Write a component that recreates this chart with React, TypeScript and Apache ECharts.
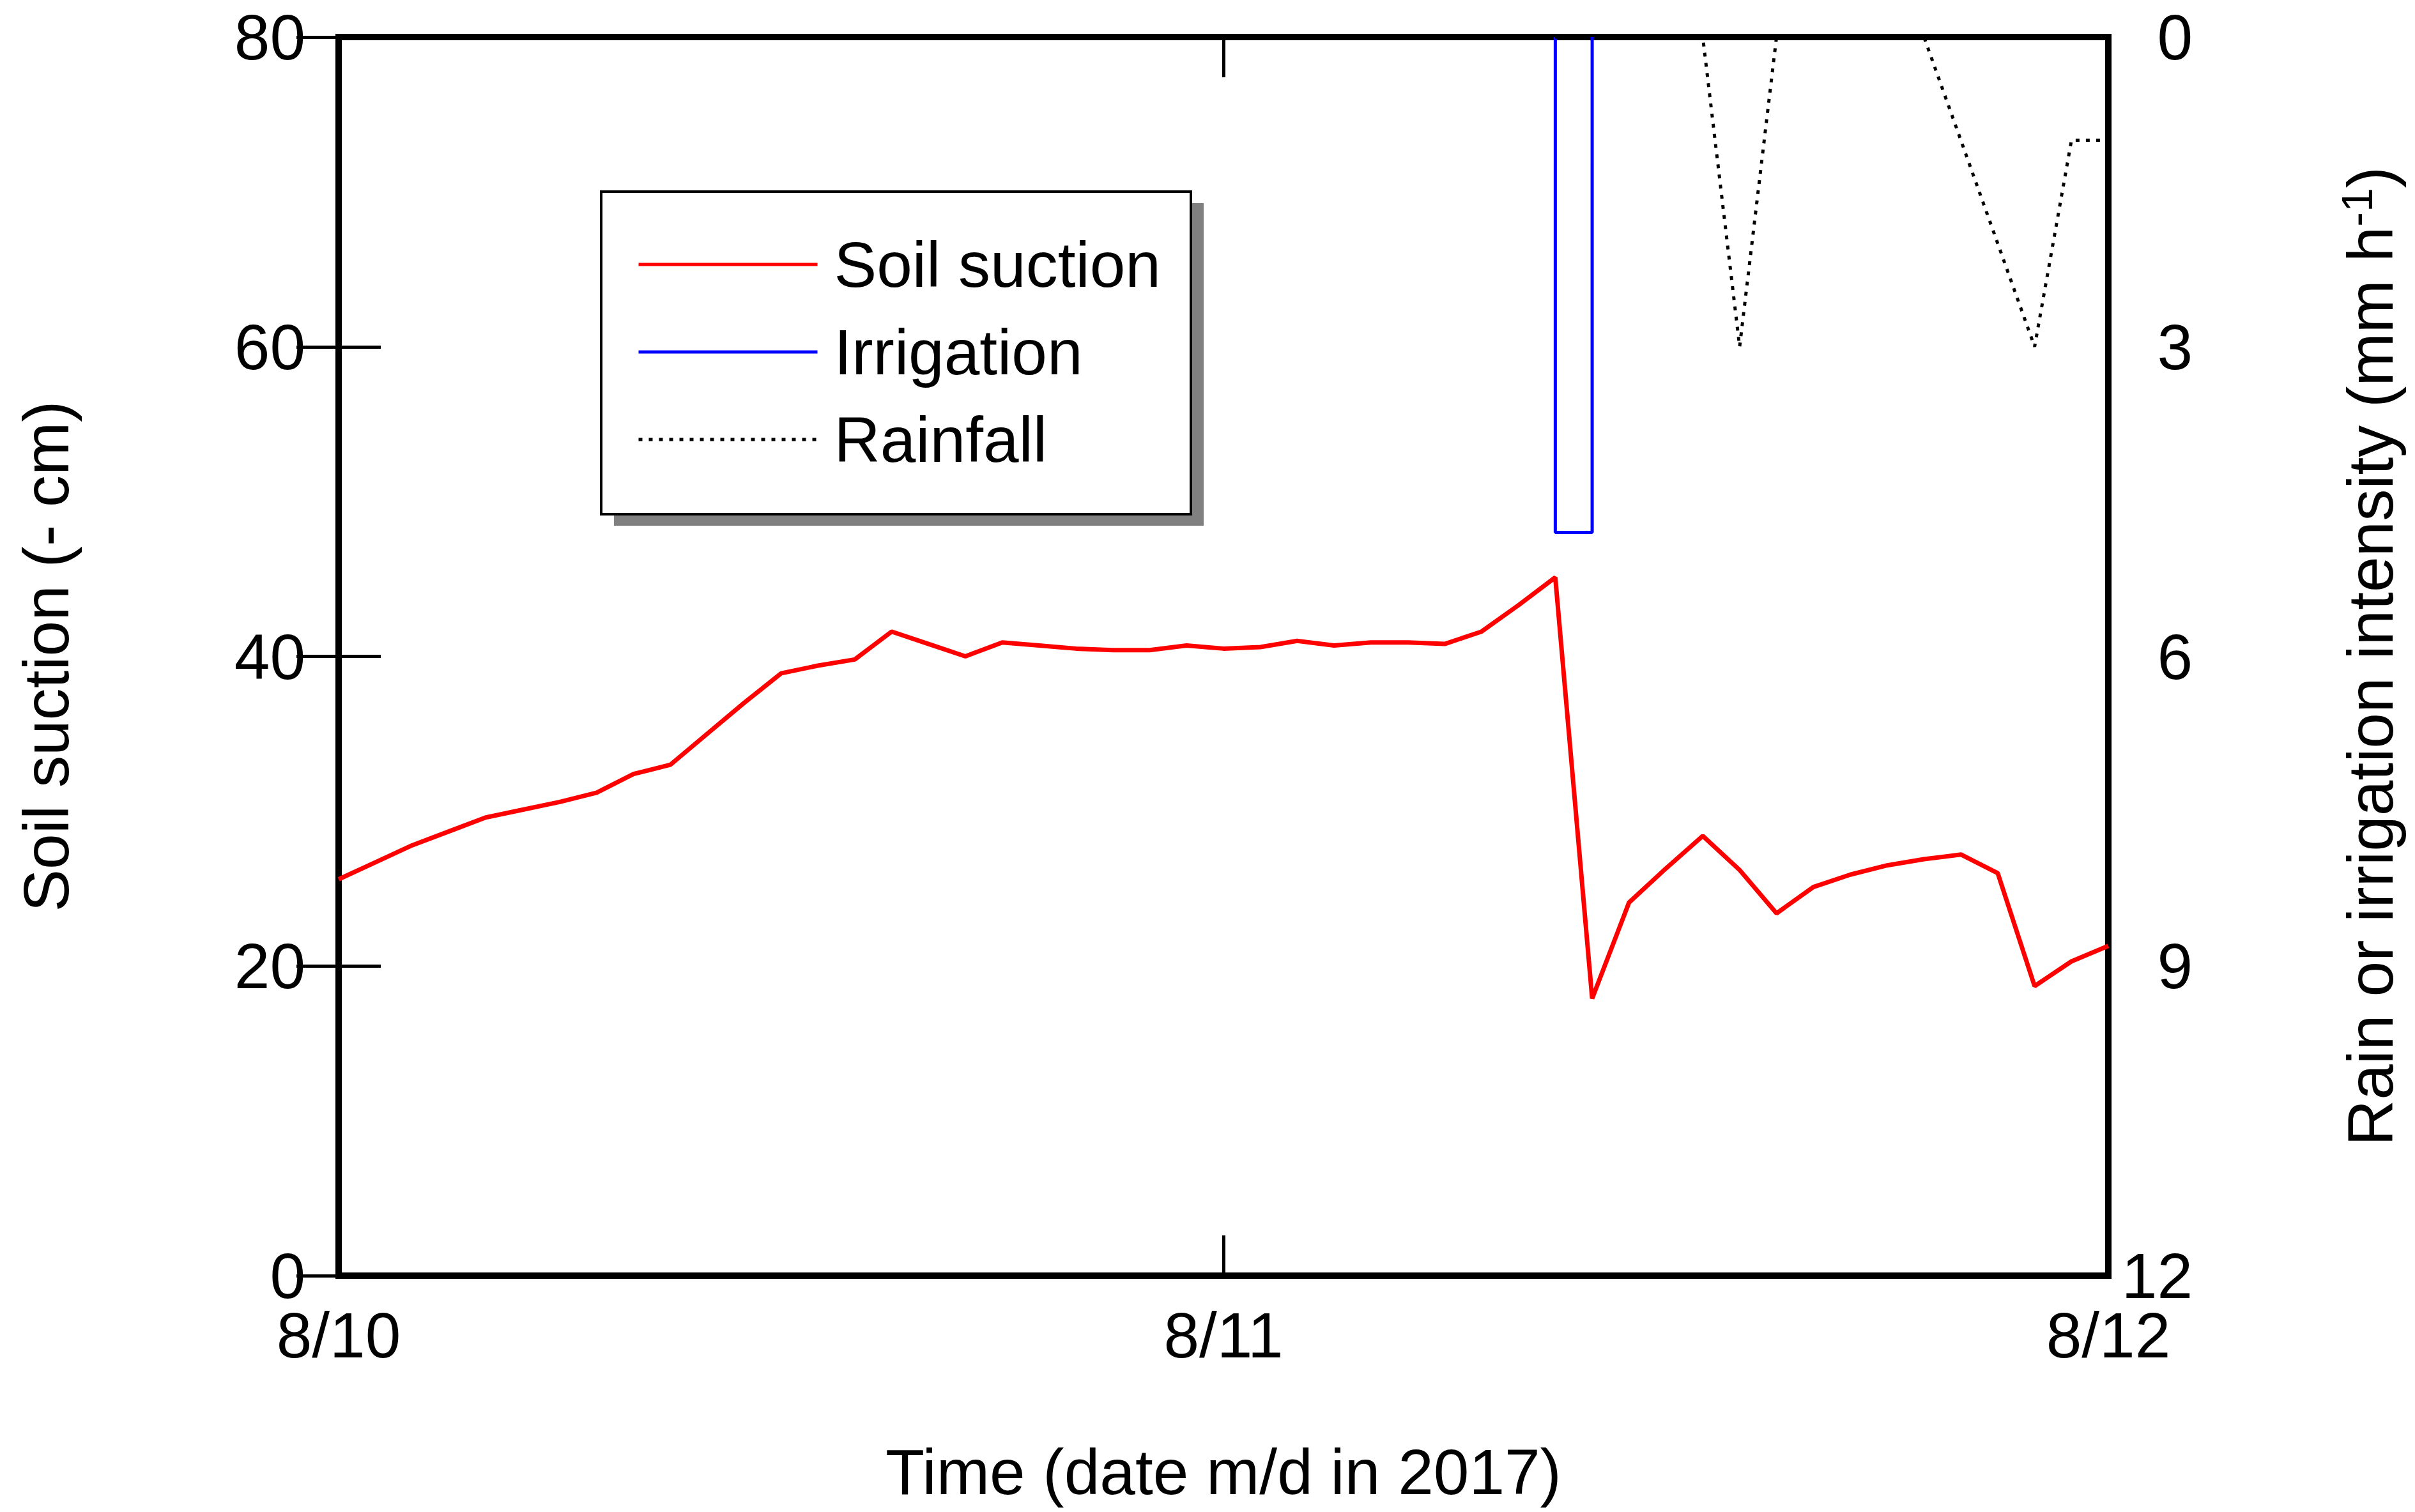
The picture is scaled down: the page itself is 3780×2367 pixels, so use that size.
import React, { useEffect, useRef } from "react";
import * as echarts from "echarts";

// Time in hours since 8/10 00:00
const HOURS = [
  0, 1, 2, 3, 4, 5, 6, 7, 8, 9, 10, 11, 12, 13, 14, 15, 16, 17, 18, 19, 20, 21, 22, 23, 24,
  25, 26, 27, 28, 29, 30, 31, 32, 33, 34, 35, 36, 37, 38, 39, 40, 41, 42, 43, 44, 45, 46, 47, 48,
];

// Soil suction (- cm), hourly
const SUCTION = [
  25.6, 26.7, 27.8, 28.7, 29.6, 30.1, 30.6, 31.2, 32.4, 33.0, 35.0, 37.0, 38.9, 39.4, 39.8, 41.6,
  40.8, 40.0, 40.9, 40.7, 40.5, 40.4, 40.4, 40.7, 40.5, 40.6, 41.0, 40.7, 40.9, 40.9, 40.8, 41.6,
  43.3, 45.1, 17.9, 24.1, 26.3, 28.4, 26.2, 23.4, 25.1, 25.9, 26.5, 26.9, 27.2, 26.0, 18.7, 20.3,
  21.3,
];

// Rainfall intensity (mm/h), hourly
const RAIN = [
  0, 0, 0, 0, 0, 0, 0, 0, 0, 0, 0, 0, 0, 0, 0, 0, 0, 0, 0, 0, 0, 0, 0, 0, 0,
  0, 0, 0, 0, 0, 0, 0, 0, 0, 0, 0, 0, 0, 3, 0, 0, 0, 0, 0, 1, 2, 3, 1, 1,
];

// Irrigation (mm/h): a single pulse
const IRR_TIME = [33, 33, 34, 34];
const IRR_VALUE = [0, 4.8, 4.8, 0];

const X_TICK_LABELS = ["8/10", "8/11", "8/12"];
const X_TICK_STEP = 24;

const FONT = "'Liberation Sans', Arial, Helvetica, sans-serif";

export default function App() {
  const ref = useRef<HTMLDivElement>(null);

  useEffect(() => {
    if (!ref.current) return;
    const chart = echarts.init(ref.current, undefined, { renderer: "svg" });

    const tickStyle = { color: "#000", width: 5 };
    const labelStyle = { color: "#000", fontSize: 100, fontFamily: FONT };

    const option: any = {
      animation: false,
      backgroundColor: "#fff",
      grid: {
        left: 530,
        right: 480,
        top: 58,
        bottom: 370,
        show: true,
        borderColor: "#000",
        borderWidth: 10,
        backgroundColor: "transparent",
        containLabel: false,
      },
      legend: {
        show: true,
        selectedMode: false,
        orient: "vertical",
        left: 997,
        top: 364,
        padding: 0,
        itemWidth: 280,
        itemHeight: 100,
        itemGap: 37,
        z: 10,
        data: ["Soil suction", "Irrigation", "Rainfall"],
        itemStyle: { opacity: 0 },
        lineStyle: { width: 5 },
        textStyle: { ...labelStyle, padding: [0, 0, 0, 21] },
      },
      graphic: {
        elements: [
          {
            type: "rect",
            z: 5,
            shape: { x: 961, y: 318, width: 923, height: 505 },
            style: { fill: "#808080" },
          },
          {
            type: "rect",
            z: 6,
            shape: { x: 941, y: 300, width: 923, height: 505 },
            style: { fill: "#fff", stroke: "#000", lineWidth: 4 },
          },
        ],
      },
      xAxis: [
        {
          type: "value",
          position: "bottom",
          min: 0,
          max: 48,
          interval: X_TICK_STEP,
          axisLine: { show: false },
          axisTick: { show: true, inside: true, length: 63, lineStyle: tickStyle },
          splitLine: { show: false },
          axisLabel: {
            ...labelStyle,
            lineHeight: 76,
            margin: 55,
            formatter: (v: number) => X_TICK_LABELS[Math.round(v / X_TICK_STEP)] ?? "",
          },
          name: "Time (date m/d in 2017)",
          nameLocation: "middle",
          nameGap: 257,
          nameTextStyle: labelStyle,
        },
        {
          type: "value",
          position: "top",
          min: 0,
          max: 48,
          interval: X_TICK_STEP,
          axisLine: { show: false },
          axisTick: { show: true, inside: true, length: 63, lineStyle: tickStyle },
          splitLine: { show: false },
          axisLabel: { show: false },
        },
      ],
      yAxis: [
        {
          type: "value",
          position: "left",
          min: 0,
          max: 80,
          interval: 20,
          axisLine: { show: false },
          axisTick: { show: true, inside: true, length: 66, lineStyle: tickStyle },
          splitLine: { show: false },
          axisLabel: { ...labelStyle, lineHeight: 76, margin: 52 },
          name: "Soil suction (- cm)",
          nameLocation: "middle",
          nameRotate: 90,
          nameGap: 408,
          nameTextStyle: labelStyle,
        },
        {
          type: "value",
          position: "right",
          min: 0,
          max: 12,
          interval: 3,
          inverse: true,
          axisLine: { show: false },
          axisTick: { show: true, inside: true, length: 66, lineStyle: tickStyle },
          splitLine: { show: false },
          axisLabel: { ...labelStyle, lineHeight: 76, margin: 132, align: "right" },
          name: "Rain or irrigation intensity (mm h{sup|-1})",
          nameLocation: "middle",
          nameRotate: 90,
          nameGap: 355,
          nameTextStyle: {
            ...labelStyle,
            lineHeight: 110,
            rich: {
              sup: { fontSize: 68, lineHeight: 70, verticalAlign: "top", color: "#000", fontFamily: FONT },
            },
          },
        },
      ],
      series: [
        {
          name: "Soil suction",
          type: "line",
          xAxisIndex: 0,
          yAxisIndex: 0,
          symbol: "none",
          lineStyle: { color: "#ff0000", width: 7 },
          itemStyle: { color: "#ff0000" },
          data: HOURS.map((h, i) => [h, SUCTION[i]]),
          z: 3,
        },
        {
          name: "Irrigation",
          type: "line",
          xAxisIndex: 0,
          yAxisIndex: 1,
          symbol: "none",
          lineStyle: { color: "#0000ff", width: 5 },
          itemStyle: { color: "#0000ff" },
          data: IRR_TIME.map((t, i) => [t, IRR_VALUE[i]]),
          z: 3,
        },
        {
          name: "Rainfall",
          type: "line",
          xAxisIndex: 0,
          yAxisIndex: 1,
          symbol: "none",
          lineStyle: { color: "#000", width: 5, type: [6, 10] },
          itemStyle: { color: "#000" },
          data: HOURS.map((h, i) => [h, RAIN[i]]),
          z: 3,
        },
      ],
    };

    chart.setOption(option);
    return () => chart.dispose();
  }, []);

  return (
    <div
      ref={ref}
      style={{ position: "absolute", left: 0, top: 0, width: 3780, height: 2367 }}
    />
  );
}
